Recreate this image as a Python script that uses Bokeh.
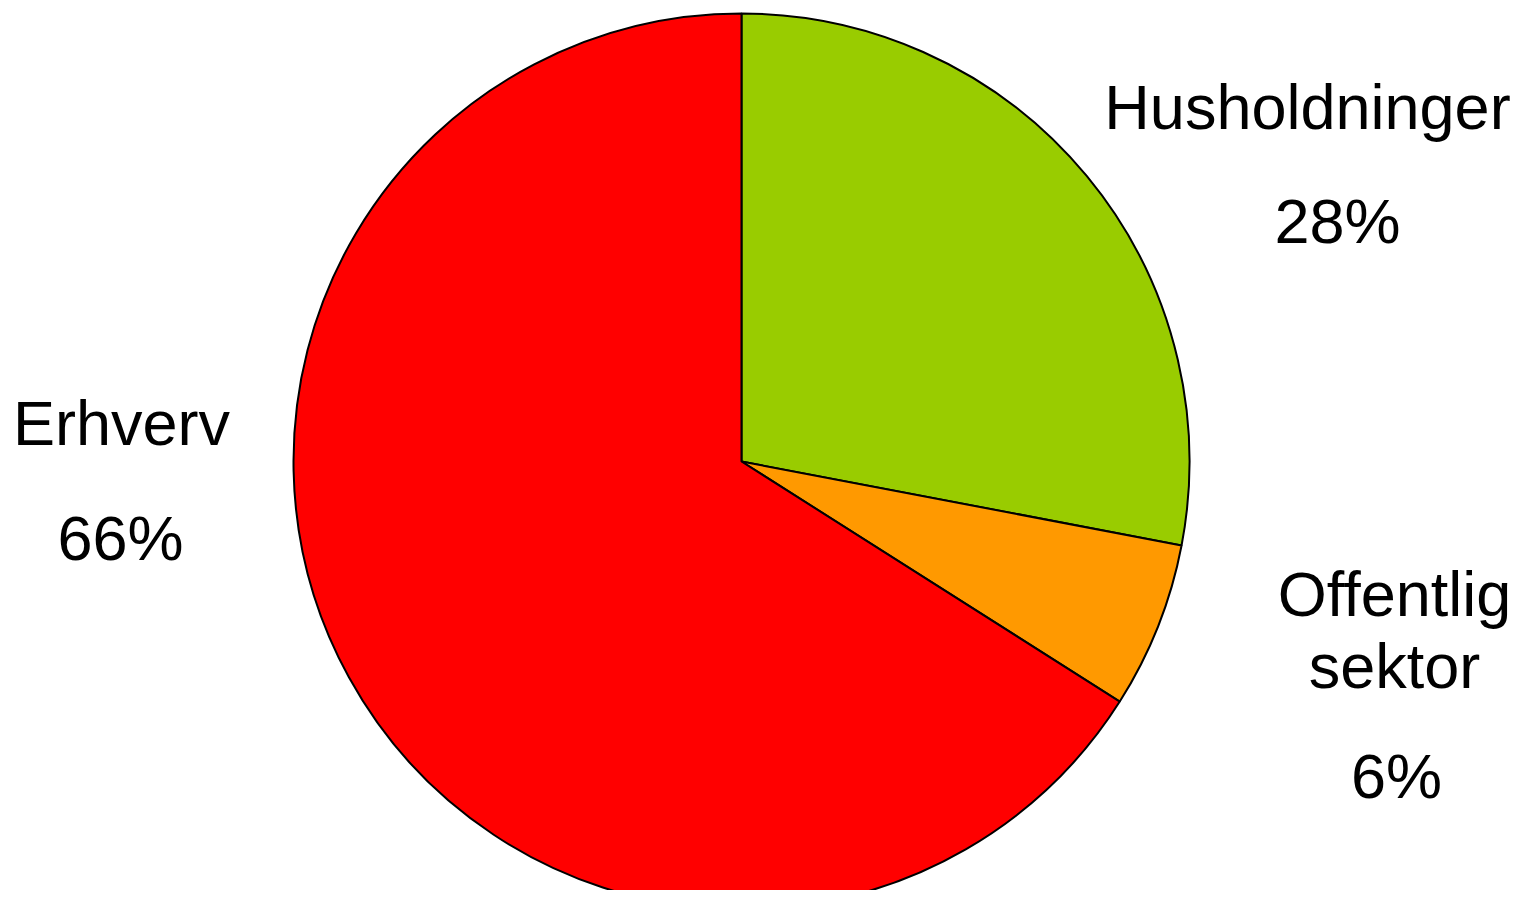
import numpy as np
from bokeh.plotting import figure
from bokeh.models import ColumnDataSource, Range1d
from bokeh.core.properties import value
from bokeh.embed import file_html
from bokeh.resources import INLINE

# ---- data ----
categories = ["Husholdninger", "Offentlig sektor", "Erhverv"]
shares = [28, 6, 66]
colors = ["#99CC00", "#FF9900", "#FF0000"]
name_lines = [["Husholdninger"], ["Offentlig", "sektor"], ["Erhverv"]]

# ---- layout (screen-pixel based) ----
W, H = 1510, 890
BASE_FIX = 25  # renderer places alphabetic baseline lower; compensate
def sx(x):
    return x
def sy(y):
    return H - y

cx, cy, R = sx(741), sy(461), 448
# label anchors: (center x, baselines of name lines, percent center x, percent baseline)
label_layout = [
    (1307, [131], 1337, 245),
    (1394, [618, 690], 1396, 800),
    (121, [447], 120, 562),
]

total = float(sum(shares))
frac = np.array(shares) / total
cum = np.concatenate([[0], np.cumsum(frac)])
start = np.pi / 2 - cum[1:] * 2 * np.pi
end = np.pi / 2 - cum[:-1] * 2 * np.pi

src = ColumnDataSource(dict(x=[cx] * len(shares), y=[cy] * len(shares),
                            start=start, end=end, color=colors, cat=categories))

p = figure(width=W, height=H, output_backend="svg", toolbar_location=None,
           x_range=Range1d(0, W), y_range=Range1d(0, H), min_border=0)
p.axis.visible = False
p.grid.visible = False
p.outline_line_color = None
p.background_fill_color = "white"
p.border_fill_color = "white"

p.wedge(x="x", y="y", radius=R, start_angle="start", end_angle="end",
        direction="anticlock", fill_color="color", line_color="black",
        line_width=2, source=src)

tx, ty, tt = [], [], []
for (nx, nys, px, py), lines, s in zip(label_layout, name_lines, shares):
    for ln, yy in zip(lines, nys):
        tx.append(sx(nx)); ty.append(sy(yy - BASE_FIX)); tt.append(ln)
    tx.append(sx(px)); ty.append(sy(py - BASE_FIX)); tt.append(f"{s}%")

p.text(x=tx, y=ty, text=tt, text_align="center", text_baseline="alphabetic",
       text_font=value("Liberation Sans"), text_font_size="63px", text_color="black")

open("out.html", "w").write(file_html(p, INLINE))
